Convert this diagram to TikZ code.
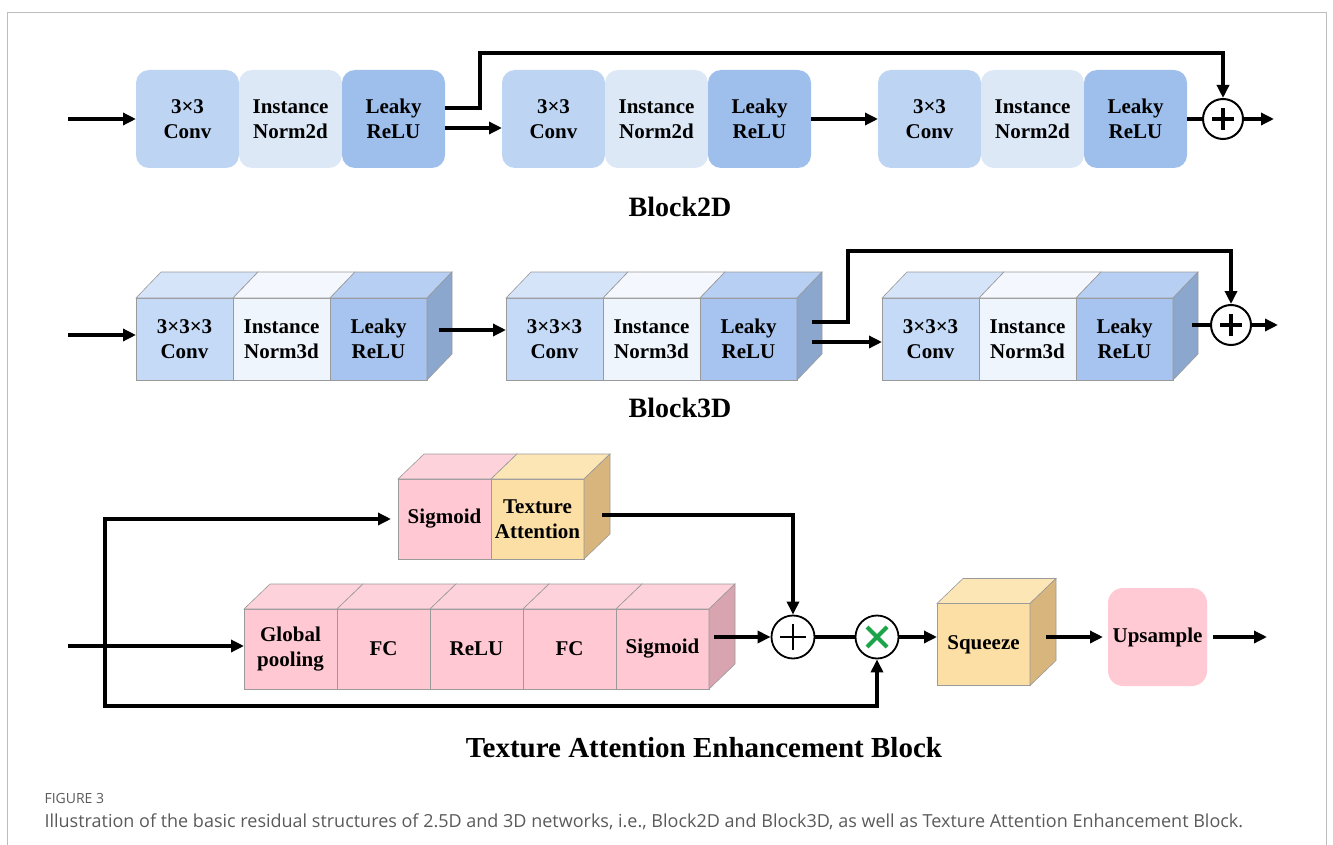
\documentclass[tikz,border=0pt]{standalone}
\usepackage{fontspec}
\setmainfont{Liberation Serif}
\newfontfamily\capfont{Open Sans}
\usetikzlibrary {arrows.meta,
                 calc,
                 positioning}
\definecolor{conv2d}{HTML}{BED4F3}
\definecolor{norm2d}{HTML}{DDE8F6}
\definecolor{leaky2d}{HTML}{9EBEEC}
\definecolor{conv3f}{HTML}{C5DAF6}
\definecolor{conv3t}{HTML}{D5E4F9}
\definecolor{norm3f}{HTML}{EEF5FD}
\definecolor{norm3t}{HTML}{F4F8FE}
\definecolor{leaky3f}{HTML}{A6C4EF}
\definecolor{leaky3t}{HTML}{B7CFF2}
\definecolor{side3d}{HTML}{8BA7CE}
\definecolor{pinkf}{HTML}{FFC8D2}
\definecolor{pinkt}{HTML}{FDD2DA}
\definecolor{pinks}{HTML}{D8A4B0}
\definecolor{yellowf}{HTML}{FCDFA4}
\definecolor{yellowt}{HTML}{FDE6B6}
\definecolor{yellows}{HTML}{D9B57E}
\definecolor{upsample}{HTML}{FFCAD4}
\definecolor{facegray}{HTML}{9A9A9A}
\definecolor{framegray}{HTML}{BDBDBD}
\definecolor{capgray}{HTML}{5A5A5A}
\definecolor{mulgreen}{HTML}{1BA548}
\tikzset{
        base/.style={align=center, inner sep=0pt, outer sep=0pt,
                     font=\bfseries\fontsize{21}{25}\selectfont},
        box2d/.style={base, rounded corners=13pt, minimum width=103pt,
                      minimum height=98pt},
        face3d/.style={base, draw=facegray, line width=0.6pt,
                       minimum width=97pt, minimum height=82pt},
        face/.style={base, draw=facegray, line width=0.6pt,
                     minimum width=93pt, minimum height=80pt},
        topface/.style={draw=facegray, line width=0.6pt},
        myline/.style={line width=3.6pt},
        myarrow/.style={-{Triangle[length=13pt,width=12pt]}, line width=3.6pt},
        addbold/.style={circle, draw, line width=2pt, minimum size=40pt,
                     fill=white,
                        path picture={
                        % dickes Plus
                        \draw[line width=4.5pt]
                        ([xshift=-11pt] path picture bounding box.center) --
                        ([xshift=11pt] path picture bounding box.center);
                        \draw[line width=4.5pt]
                        ([yshift=-11pt] path picture bounding box.center) --
                        ([yshift=11pt] path picture bounding box.center);
            }
        },
        addthin/.style={circle, draw, line width=1.8pt, minimum size=43pt,
                     fill=white,
                        path picture={
                        \draw[line width=1.8pt]
                        ([xshift=-13pt] path picture bounding box.center) --
                        ([xshift=13pt] path picture bounding box.center);
                        \draw[line width=1.8pt]
                        ([yshift=-13pt] path picture bounding box.center) --
                        ([yshift=13pt] path picture bounding box.center);
            }
        },
        mulop/.style={circle, draw, line width=1.8pt, minimum size=43pt,
                     fill=white,
                        path picture={
                        \draw[mulgreen, line width=4pt]
                        ([shift={(-10pt,-10pt)}] path picture bounding box.center) --
                        ([shift={(10pt,10pt)}] path picture bounding box.center);
                        \draw[mulgreen, line width=4pt]
                        ([shift={(-10pt,10pt)}] path picture bounding box.center) --
                        ([shift={(10pt,-10pt)}] path picture bounding box.center);
            }
        },
        title/.style={font=\bfseries\fontsize{28}{30}\selectfont},
 }

\begin{document}
\begin{tikzpicture}[x=1pt, y=-1pt]
        \useasboundingbox (0,0) rectangle (1333,845);
        \draw[framegray, line width=1pt] (7,845) -- (7,13) -- (1326,13) -- (1326,845);

        % Block2D
        \node[box2d, fill=conv2d] (conva) at (187.5,119) {3×3\\Conv};
        \node[box2d, fill=norm2d, right=0pt of conva] (norma) {Instance\\Norm2d};
        \node[box2d, fill=leaky2d, right=0pt of norma] (leakya) {Leaky\\ReLU};
        \node[box2d, fill=conv2d, right=57pt of leakya] (convb) {3×3\\Conv};
        \node[box2d, fill=norm2d, right=0pt of convb] (normb) {Instance\\Norm2d};
        \node[box2d, fill=leaky2d, right=0pt of normb] (leakyb) {Leaky\\ReLU};
        \node[box2d, fill=conv2d, right=67pt of leakyb] (convc) {3×3\\Conv};
        \node[box2d, fill=norm2d, right=0pt of convc] (normc) {Instance\\Norm2d};
        \node[box2d, fill=leaky2d, right=0pt of normc] (leakyc) {Leaky\\ReLU};
        \node[addbold, right=15pt of leakyc] (adda) {};
        \coordinate (ina) at (68,119);
        \coordinate[right=30pt of adda] (outa);
        \node[title] (ttla) at (680,207) {Block2D};

        \draw[myarrow] (ina) -- (conva);
        \draw[myarrow] ([yshift=11pt]leakya.east) -- ++(35,0)
             |- ([yshift=45pt]adda.north) -- (adda.north);
        \draw[myarrow] ([yshift=-9pt]leakya.east) -- ([yshift=-9pt]convb.west);
        \draw[myarrow] (leakyb) -- (convc);
        \draw[myline] (leakyc) -- (adda);
        \draw[myarrow] (adda) -- (outa);

        % Block3D
        \node[face3d, fill=conv3f] (convd) at (184.5,339) {3×3×3\\Conv};
        \node[face3d, fill=norm3f, right=0pt of convd] (normd) {Instance\\Norm3d};
        \node[face3d, fill=leaky3f, right=0pt of normd] (leakyd) {Leaky\\ReLU};
        \node[face3d, fill=conv3f, right=79pt of leakyd] (conve) {3×3×3\\Conv};
        \node[face3d, fill=norm3f, right=0pt of conve] (norme) {Instance\\Norm3d};
        \node[face3d, fill=leaky3f, right=0pt of norme] (leakye) {Leaky\\ReLU};
        \node[face3d, fill=conv3f, right=85pt of leakye] (convf) {3×3×3\\Conv};
        \node[face3d, fill=norm3f, right=0pt of convf] (normf) {Instance\\Norm3d};
        \node[face3d, fill=leaky3f, right=0pt of normf] (leakyf) {Leaky\\ReLU};

        \foreach \n/\c in {convd/conv3t, normd/norm3t, leakyd/leaky3t,
                           conve/conv3t, norme/norm3t, leakye/leaky3t,
                           convf/conv3t, normf/norm3t, leakyf/leaky3t}
            \filldraw[topface, fill=\c] (\n.north west) -- ++(25,-26)
                 -- ([shift={(25,-26)}]\n.north east) -- (\n.north east) -- cycle;
        \foreach \n in {leakyd, leakye, leakyf}
            \filldraw[topface, fill=side3d] (\n.north east) -- ++(25,-26)
                 -- ([shift={(25,-26)}]\n.south east) -- (\n.south east) -- cycle;

        \node[addbold, right=37pt of leakyf, yshift=14pt] (addb) {};
        \coordinate (inb) at (68,335);
        \coordinate[right=26pt of addb] (outb);
        \node[title] (ttlb) at (680,408) {Block3D};

        \draw[myarrow] (inb) -- (inb -| convd.west);
        \draw[myarrow] ([shift={(12,-9)}]leakyd.east) -- ([yshift=9pt]conve.west);
        \draw[myarrow] ([shift={(15,-17)}]leakye.east) -- ++(36,0)
             |- ([yshift=53pt]addb.north) -- (addb.north);
        \draw[myarrow] ([shift={(15,3)}]leakye.east) -- ([yshift=-3pt]convf.west);
        \draw[myline] ([shift={(19,-14)}]leakyf.east) -- (addb.west);
        \draw[myarrow] (addb) -- (outb);

        % Texture Attention Enhancement Block
        \node[face, fill=pinkf] (sigt) at (444.5,519) {Sigmoid};
        \node[face, fill=yellowf, right=0pt of sigt] (texatt) {Texture\\Attention};
        \node[face, fill=pinkf] (gpool) at (290.5,649) {Global\\pooling};
        \node[face, fill=pinkf, right=0pt of gpool] (fca) {FC};
        \node[face, fill=pinkf, right=0pt of fca] (relu) {ReLU};
        \node[face, fill=pinkf, right=0pt of relu] (fcb) {FC};
        \node[face, fill=pinkf, right=0pt of fcb] (sigb) {Sigmoid};
        \node[face, fill=yellowf, minimum height=82pt] (squeeze) at (983.5,644.5) {Squeeze};
        \node[base, fill=upsample, rounded corners=15pt, minimum width=99pt,
              minimum height=98pt] (upsample) at (1157.5,637) {Upsample};

        \foreach \n/\c in {sigt/pinkt, texatt/yellowt, gpool/pinkt, fca/pinkt,
                           relu/pinkt, fcb/pinkt, sigb/pinkt, squeeze/yellowt}
            \filldraw[topface, fill=\c] (\n.north west) -- ++(26,-25)
                 -- ([shift={(26,-25)}]\n.north east) -- (\n.north east) -- cycle;
        \foreach \n/\c in {texatt/yellows, sigb/pinks, squeeze/yellows}
            \filldraw[topface, fill=\c] (\n.north east) -- ++(26,-25)
                 -- ([shift={(26,-25)}]\n.south east) -- (\n.south east) -- cycle;

        \node[addthin] (addc) at (793,637) {};
        \node[mulop] (mulc) at (877,637) {};
        \coordinate (inc) at (68,646);
        \coordinate (branch) at (105,646);
        \coordinate (loopc) at (105,706);
        \coordinate (outc) at (1267,637);
        \node[title, font=\bfseries\fontsize{29}{31}\selectfont] (ttlc) at (704,748)
             {Texture Attention Enhancement Block};

        \draw[myarrow] (inc) -- (inc -| gpool.west);
        \draw[myarrow, line cap=rect] (loopc) |- ([xshift=-7pt]sigt.west);
        \draw[myarrow] (loopc) -| (mulc.south);
        \draw[myarrow] ([shift={(18,-4)}]texatt.east) -| (addc.north);
        \draw[myarrow] ([shift={(5,-12)}]sigb.east) -- (addc.west);
        \draw[myline] (addc.east) -- (mulc.west);
        \draw[myarrow] (mulc.east) -- (mulc.east -| squeeze.west);
        \draw[myarrow] ([shift={(16,-7.5)}]squeeze.east) -- ([xshift=-5pt]upsample.west);
        \draw[myarrow] ([xshift=6pt]upsample.east) -- (outc);

        % caption
        \node[anchor=west, text=capgray, font=\capfont\fontsize{14}{16}\selectfont]
             (fignum) at (41,798) {FIGURE 3};
        \node[anchor=west, text=capgray, font=\capfont\fontsize{18}{21}\selectfont]
             (caption) at (41,822) {Illustration of the basic residual structures
             of 2.5D and 3D networks, i.e., Block2D and Block3D, as well as Texture
             Attention Enhancement Block.};
\end{tikzpicture}
\end{document}
